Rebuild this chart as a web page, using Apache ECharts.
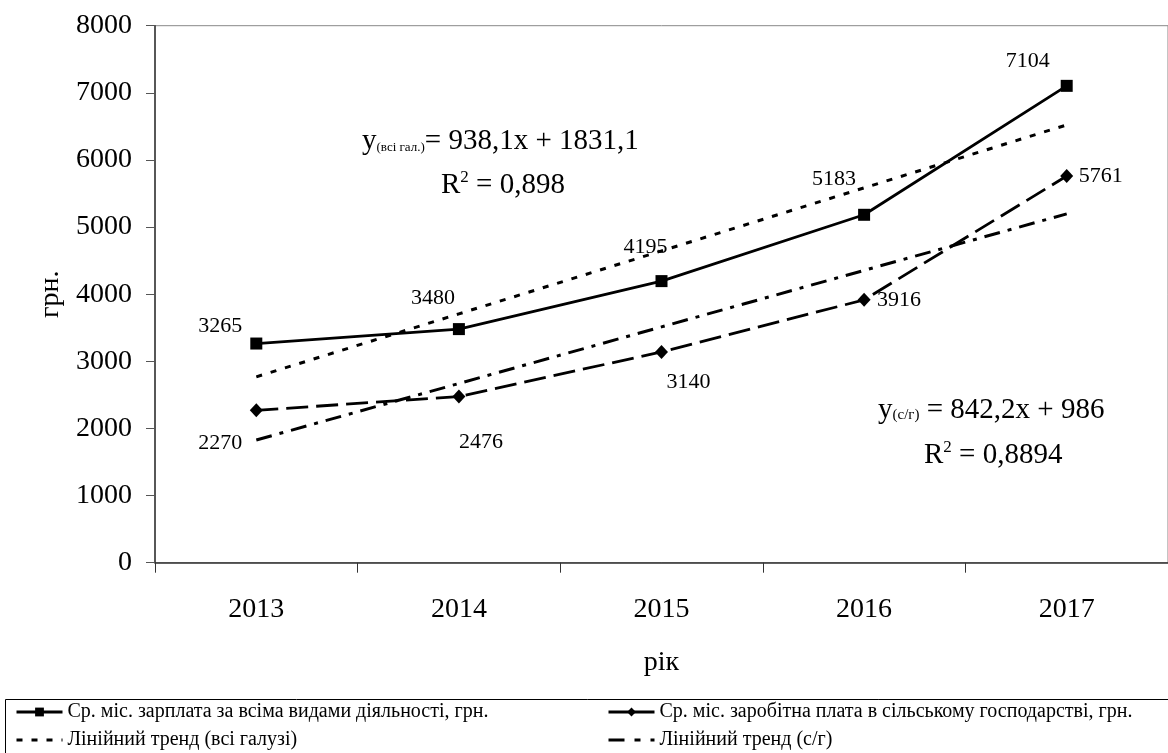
<!DOCTYPE html>
<html><head><meta charset="utf-8">
<script src="https://cdn.jsdelivr.net/npm/echarts@6/dist/echarts.min.js"></script>
<style>html,body{margin:0;padding:0;background:#fff}#c{width:1168px;height:753px}</style>
</head><body><div id="c"></div>
<script>
// ---- data ----
const years = ['2013', '2014', '2015', '2016', '2017'];
const wageAll = [3265, 3480, 4195, 5183, 7104];
const wageAgri = [2270, 2476, 3140, 3916, 5761];
const trendAll = [2769, 3707, 4645, 5584, 6522];
const trendAgri = [1828, 2670, 3513, 4355, 5197];
const seriesNames = [
  'Ср. міс. зарплата за всіма видами діяльності, грн.',
  'Ср. міс. заробітна плата в сільському господарстві, грн.',
  'Лінійний тренд (всі галузі)',
  'Лінійний тренд (с/г)'
];
const yAxisName = 'грн.';
const xAxisName = 'рік';
const eqAll = ['y', '(всі гал.)', '= 938,1x + 1831,1', 'R', '2', ' = 0,898'];
const eqAgri = ['y', '(с/г)', ' = 842,2x + 986', 'R', '2', ' = 0,8894'];

// ---- styles (label offsets relative to the marker) ----
const offAll = [[-36, -17], [-26, -31], [-16, -34], [-30, -36], [-39, -25]];
const offAgri = [[-36, 33], [22, 46], [27, 30], [35, 0], [34, 0]];
const FONT = 'Liberation Serif, Times New Roman, serif';

function withLabels(vals, offs) {
  return vals.map((v, i) => ({ value: v, label: { offset: offs[i] } }));
}
const labelBase = {
  show: true, position: 'inside', align: 'center', verticalAlign: 'middle',
  fontFamily: FONT, fontSize: 22, color: '#000'
};
const legendText = { fontFamily: FONT, fontSize: 20, color: '#000', lineHeight: 20 };

const chart = echarts.init(document.getElementById('c'), null, { renderer: 'canvas' });
chart.setOption({
  animation: false,
  backgroundColor: '#fff',
  textStyle: { fontFamily: FONT, color: '#000' },
  grid: { left: 155, top: 25.7, width: 1017.5, height: 537, show: true, borderColor: '#888', borderWidth: 1, backgroundColor: 'transparent' },
  xAxis: {
    type: 'category', data: years, boundaryGap: true,
    name: xAxisName, nameLocation: 'middle', nameGap: 86,
    nameTextStyle: { fontFamily: FONT, fontSize: 28, color: '#000' },
    axisLine: { lineStyle: { color: '#333', width: 1.5 } },
    axisTick: { show: true, length: 10, lineStyle: { color: '#333', width: 1 } },
    axisLabel: { margin: 33, fontFamily: FONT, fontSize: 28, color: '#000' },
    splitLine: { show: false }
  },
  yAxis: {
    type: 'value', min: 0, max: 8000, interval: 1000,
    name: yAxisName, nameLocation: 'middle', nameGap: 89, nameRotate: 90,
    nameTextStyle: { fontFamily: FONT, fontSize: 28, color: '#000' },
    axisLine: { show: true, lineStyle: { color: '#333', width: 1.5 } },
    axisTick: { show: true, length: 9, lineStyle: { color: '#555', width: 1 } },
    axisLabel: { margin: 23, fontFamily: FONT, fontSize: 28, color: '#000', formatter: v => String(v) },
    splitLine: { show: false }
  },
  legend: [
    {
      orient: 'vertical', left: 15, top: 702, padding: 0, itemGap: 8, itemWidth: 46, itemHeight: 11,
      data: [
        { name: seriesNames[0], lineStyle: { width: 3 } },
        { name: seriesNames[2], itemStyle: { opacity: 0 }, lineStyle: { width: 3 } }
      ],
      textStyle: legendText
    },
    {
      orient: 'vertical', left: 607, top: 702, padding: 0, itemGap: 8, itemWidth: 46, itemHeight: 11,
      data: [
        { name: seriesNames[1], lineStyle: { width: 3, type: 'solid' } },
        { name: seriesNames[3], itemStyle: { opacity: 0 }, lineStyle: { width: 3, type: [16, 10, 6, 10] } }
      ],
      textStyle: legendText
    }
  ],
  series: [
    {
      name: seriesNames[2], type: 'line', data: trendAll, symbol: 'none', z: 2,
      lineStyle: { color: '#000', width: 3, type: [6, 9] }, itemStyle: { color: '#000' }
    },
    {
      name: seriesNames[3], type: 'line', data: trendAgri, symbol: 'none', z: 2,
      lineStyle: { color: '#000', width: 3, type: [16, 8, 4, 8] }, itemStyle: { color: '#000' }
    },
    {
      name: seriesNames[1], type: 'line', data: withLabels(wageAgri, offAgri),
      symbol: 'diamond', symbolSize: [13, 14], z: 3,
      lineStyle: { color: '#000', width: 2.8, type: [22, 8] }, itemStyle: { color: '#000' },
      label: labelBase
    },
    {
      name: seriesNames[0], type: 'line', data: withLabels(wageAll, offAll),
      symbol: 'rect', symbolSize: 12, z: 4,
      lineStyle: { color: '#000', width: 2.8 }, itemStyle: { color: '#000' },
      label: labelBase
    }
  ],
  graphic: [
    {
      type: 'rect', left: 5, top: 699, shape: { width: 1200, height: 60 },
      style: { fill: 'transparent', stroke: '#000', lineWidth: 1 }, silent: true
    },
    {
      type: 'text', left: 362, top: 127,
      style: {
        text: '{a|' + eqAll[0] + '}{s|' + eqAll[1] + '}{a|' + eqAll[2] + '}',
        rich: {
          a: { fontFamily: FONT, fontSize: 29, color: '#000', lineHeight: 31, verticalAlign: 'bottom' },
          s: { fontFamily: FONT, fontSize: 13, color: '#000', lineHeight: 31, verticalAlign: 'bottom', padding: [0, 0, 2, 0] }
        }
      }
    },
    {
      type: 'text', left: 441, top: 169,
      style: {
        text: '{a|' + eqAll[3] + '}{p|' + eqAll[4] + '}{a|' + eqAll[5] + '}',
        rich: {
          a: { fontFamily: FONT, fontSize: 29, color: '#000', lineHeight: 31, verticalAlign: 'bottom' },
          p: { fontFamily: FONT, fontSize: 17, color: '#000', lineHeight: 31, verticalAlign: 'top' }
        }
      }
    },
    {
      type: 'text', left: 878, top: 396,
      style: {
        text: '{a|' + eqAgri[0] + '}{s|' + eqAgri[1] + '}{a|' + eqAgri[2] + '}',
        rich: {
          a: { fontFamily: FONT, fontSize: 29, color: '#000', lineHeight: 31, verticalAlign: 'bottom' },
          s: { fontFamily: FONT, fontSize: 15, color: '#000', lineHeight: 31, verticalAlign: 'bottom', padding: [0, 0, 2, 0] }
        }
      }
    },
    {
      type: 'text', left: 924, top: 439,
      style: {
        text: '{a|' + eqAgri[3] + '}{p|' + eqAgri[4] + '}{a|' + eqAgri[5] + '}',
        rich: {
          a: { fontFamily: FONT, fontSize: 29, color: '#000', lineHeight: 31, verticalAlign: 'bottom' },
          p: { fontFamily: FONT, fontSize: 17, color: '#000', lineHeight: 31, verticalAlign: 'top' }
        }
      }
    }
  ]
});
</script>
</body></html>
